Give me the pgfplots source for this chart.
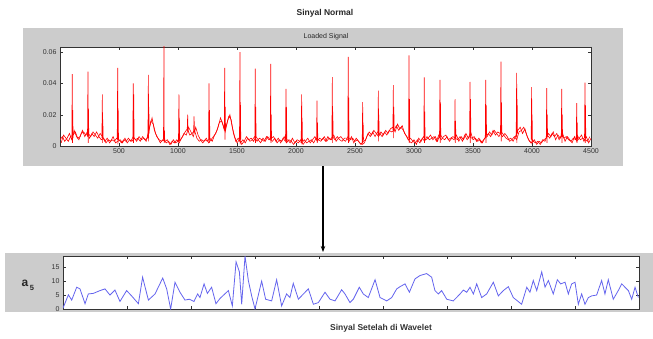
\documentclass[border=0pt]{standalone}
\usepackage{pgfplots}
\pgfplotsset{compat=1.18}
\usepackage{pgfplotstable}
\usetikzlibrary{arrows.meta}
\usepackage{fontspec}
\setmainfont{Liberation Sans}
\definecolor{panelgray}{RGB}{204,204,204}
\definecolor{sigblue}{RGB}{100,100,238}

\pgfplotstableread{
x y
0 0.004
20 0.006
40 0.003
60 0.005
80 0.008
100 0.004
120 0.010
140 0.006
160 0.004
180 0.008
200 0.009
220 0.007
240 0.008
260 0.006
280 0.009
300 0.007
320 0.005
340 0.008
360 0.006
380 0.003
400 0.005
420 0.002
440 0.004
460 0.003
480 0.005
500 0.004
520 0.002
540 0.004
560 0.003
580 0.005
600 0.003
620 0.006
640 0.004
660 0.005
680 0.003
700 0.006
720 0.004
740 0.005
760 0.012
780 0.018
800 0.010
820 0.006
840 0.004
860 0.003
880 0.004
900 0.002
920 0.003
940 0.001
960 0.004
980 0.002
1000 0.003
1020 0.004
1040 0.006
1060 0.009
1080 0.011
1100 0.007
1120 0.008
1140 0.010
1160 0.005
1180 0.003
1200 0.004
1220 0.003
1240 0.005
1260 0.002
1280 0.004
1300 0.006
1320 0.008
1340 0.012
1360 0.018
1380 0.014
1400 0.009
1420 0.016
1440 0.020
1460 0.012
1480 0.006
1500 0.002
1520 0.004
1540 0.001
1560 0.003
1580 0.006
1600 0.004
1620 0.005
1640 0.003
1660 0.006
1680 0.004
1700 0.002
1720 0.005
1740 0.003
1760 0.006
1780 0.004
1800 0.003
1820 0.005
1840 0.002
1860 0.004
1880 0.003
1900 0.006
1920 0.002
1940 0.004
1960 0.003
1980 0.001
2000 0.003
2020 0.002
2040 0.004
2060 0.001
2080 0.003
2100 0.005
2120 0.002
2140 0.004
2160 0.006
2180 0.003
2200 0.005
2220 0.004
2240 0.006
2260 0.003
2280 0.005
2300 0.004
2320 0.007
2340 0.003
2360 0.005
2380 0.006
2400 0.004
2420 0.003
2440 0.006
2460 0.004
2480 0.005
2500 0.003
2520 0.004
2540 0.002
2560 0.001
2580 0.002
2600 0.006
2620 0.009
2640 0.007
2660 0.010
2680 0.008
2700 0.006
2720 0.009
2740 0.007
2760 0.010
2780 0.008
2800 0.011
2820 0.012
2840 0.009
2860 0.014
2880 0.011
2900 0.013
2920 0.008
2940 0.006
2960 0.003
2980 0.002
3000 0.004
3020 0.001
3040 0.005
3060 0.003
3080 0.006
3100 0.004
3120 0.005
3140 0.007
3160 0.004
3180 0.006
3200 0.003
3220 0.008
3240 0.005
3260 0.004
3280 0.006
3300 0.003
3320 0.005
3340 0.004
3360 0.007
3380 0.003
3400 0.006
3420 0.004
3440 0.008
3460 0.005
3480 0.009
3500 0.004
3520 0.005
3540 0.003
3560 0.004
3580 0.002
3600 0.005
3620 0.006
3640 0.009
3660 0.007
3680 0.010
3700 0.008
3720 0.006
3740 0.009
3760 0.007
3780 0.005
3800 0.004
3820 0.005
3840 0.003
3860 0.006
3880 0.010
3900 0.012
3920 0.008
3940 0.011
3960 0.006
3980 0.003
4000 0.002
4020 0.004
4040 0.001
4060 0.003
4080 0.002
4100 0.004
4120 0.005
4140 0.008
4160 0.006
4180 0.009
4200 0.004
4220 0.007
4240 0.005
4260 0.008
4280 0.003
4300 0.006
4320 0.004
4340 0.002
4360 0.006
4380 0.003
4400 0.005
4420 0.007
4440 0.003
4460 0.006
4480 0.002
4500 0.005
}\baseline

\pgfplotstableread{
x y
10 0.002
30 0.007
50 0.005
70 0.003
90 0.006
110 0.007
130 0.009
150 0.005
170 0.006
190 0.010
210 0.006
230 0.009
250 0.005
270 0.008
290 0.006
310 0.009
330 0.006
350 0.004
370 0.005
390 0.002
410 0.004
430 0.003
450 0.006
470 0.002
490 0.003
510 0.004
530 0.002
550 0.005
570 0.002
590 0.004
610 0.003
630 0.005
650 0.003
670 0.006
690 0.004
710 0.005
730 0.003
750 0.009
770 0.016
790 0.014
810 0.008
830 0.005
850 0.002
870 0.004
890 0.003
910 0.004
930 0.001
950 0.003
970 0.002
990 0.004
1010 0.002
1030 0.005
1050 0.008
1070 0.007
1090 0.012
1110 0.009
1130 0.006
1150 0.012
1170 0.007
1190 0.004
1210 0.002
1230 0.004
1250 0.003
1270 0.005
1290 0.003
1310 0.007
1330 0.010
1350 0.015
1370 0.016
1390 0.011
1410 0.013
1430 0.019
1450 0.017
1470 0.008
1490 0.003
1510 0.005
1530 0.002
1550 0.004
1570 0.002
1590 0.005
1610 0.003
1630 0.004
1650 0.006
1670 0.003
1690 0.005
1710 0.004
1730 0.003
1750 0.006
1770 0.004
1790 0.005
1810 0.006
1830 0.003
1850 0.005
1870 0.002
1890 0.005
1910 0.003
1930 0.004
1950 0.002
1970 0.005
1990 0.002
2010 0.004
2030 0.003
2050 0.002
2070 0.004
2090 0.002
2110 0.003
2130 0.004
2150 0.002
2170 0.005
2190 0.004
2210 0.003
2230 0.005
2250 0.003
2270 0.006
2290 0.004
2310 0.006
2330 0.004
2350 0.006
2370 0.004
2390 0.003
2410 0.005
2430 0.005
2450 0.003
2470 0.006
2490 0.002
2510 0.005
2530 0.003
2550 0.001
2570 0.003
2590 0.004
2610 0.008
2630 0.006
2650 0.009
2670 0.006
2690 0.009
2710 0.008
2730 0.006
2750 0.009
2770 0.007
2790 0.010
2810 0.009
2830 0.010
2850 0.013
2870 0.010
2890 0.012
2910 0.010
2930 0.007
2950 0.004
2970 0.005
2990 0.003
3010 0.002
3030 0.004
3050 0.002
3070 0.005
3090 0.003
3110 0.006
3130 0.004
3150 0.005
3170 0.006
3190 0.003
3210 0.007
3230 0.004
3250 0.006
3270 0.007
3290 0.004
3310 0.005
3330 0.006
3350 0.005
3370 0.004
3390 0.006
3410 0.003
3430 0.007
3450 0.004
3470 0.006
3490 0.005
3510 0.006
3530 0.003
3550 0.005
3570 0.002
3590 0.004
3610 0.006
3630 0.008
3650 0.006
3670 0.010
3690 0.007
3710 0.009
3730 0.008
3750 0.006
3770 0.008
3790 0.006
3810 0.003
3830 0.004
3850 0.006
3870 0.004
3890 0.009
3910 0.010
3930 0.012
3950 0.008
3970 0.004
3990 0.002
4010 0.003
4030 0.002
4050 0.003
4070 0.001
4090 0.004
4110 0.003
4130 0.007
4150 0.005
4170 0.008
4190 0.006
4210 0.008
4230 0.004
4250 0.007
4270 0.005
4290 0.006
4310 0.004
4330 0.003
4350 0.005
4370 0.004
4390 0.006
4410 0.004
4430 0.005
4450 0.004
4470 0.003
4490 0.006
}\noisetwo

\pgfplotstableread{
x y
100 0.004
104 0.046
106 0.002
108 0.023
111 0.005
nan nan
233 0.006
237 0.0475
239 0.002
241 0.024
244 0.007
nan nan
355 0.005
359 0.033
361 0.002
363 0.017
366 0.004
nan nan
485 0.004
489 0.050
491 0.001
493 0.024
496 0.004
nan nan
617 0.004
621 0.040
623 0.002
625 0.033
628 0.005
nan nan
745 0.005
749 0.0455
751 0.003
753 0.025
756 0.008
nan nan
877 0.004
881 0.064
883 0.002
885 0.010
888 0.003
nan nan
1004 0.003
1008 0.033
1010 0.002
1012 0.018
1015 0.004
nan nan
1078 0.010
1082 0.020
1086 0.008
nan nan
1132 0.008
1136 0.019
1140 0.009
nan nan
1259 0.004
1263 0.040
1265 0.002
1267 0.023
1270 0.004
nan nan
1392 0.010
1396 0.050
1398 0.004
1400 0.025
1403 0.010
nan nan
1521 0.004
1525 0.060
1527 0.001
1529 0.028
1532 0.004
nan nan
1651 0.005
1655 0.0495
1657 0.002
1659 0.025
1662 0.005
nan nan
1782 0.004
1786 0.0525
1788 0.002
1790 0.020
1793 0.004
nan nan
1911 0.004
1915 0.0365
1917 0.002
1919 0.025
1922 0.004
nan nan
2044 0.003
2048 0.033
2050 0.001
2052 0.018
2055 0.003
nan nan
2174 0.004
2178 0.029
2180 0.002
2182 0.015
2185 0.004
nan nan
2304 0.005
2308 0.044
2310 0.002
2312 0.022
2315 0.006
nan nan
2439 0.005
2443 0.057
2445 0.002
2447 0.031
2450 0.005
nan nan
2561 0.002
2565 0.028
2567 0.001
2569 0.015
2572 0.004
nan nan
2694 0.007
2698 0.0354
2700 0.003
2702 0.020
2705 0.007
nan nan
2821 0.010
2825 0.039
2827 0.005
2829 0.025
2832 0.011
nan nan
2954 0.005
2958 0.058
2960 0.002
2962 0.030
2965 0.004
nan nan
3083 0.005
3087 0.0438
3089 0.002
3091 0.022
3094 0.005
nan nan
3216 0.005
3220 0.0423
3222 0.002
3224 0.028
3227 0.006
nan nan
3344 0.005
3348 0.030
3350 0.002
3352 0.016
3355 0.005
nan nan
3471 0.006
3475 0.041
3477 0.002
3479 0.030
3482 0.006
nan nan
3604 0.005
3608 0.0423
3610 0.002
3612 0.026
3615 0.007
nan nan
3733 0.008
3737 0.054
3739 0.003
3741 0.028
3744 0.008
nan nan
3866 0.006
3870 0.0467
3872 0.002
3874 0.030
3877 0.008
nan nan
3993 0.004
3997 0.0376
3999 0.001
4001 0.020
4004 0.003
nan nan
4121 0.005
4125 0.037
4127 0.002
4129 0.020
4132 0.006
nan nan
4248 0.006
4252 0.0365
4254 0.002
4256 0.020
4259 0.006
nan nan
4375 0.004
4379 0.0274
4381 0.002
4383 0.015
4386 0.004
nan nan
4445 0.005
4449 0.0405
4451 0.002
4453 0.026
4456 0.005
}\spikes

\pgfplotstableread{
x y
0 0.3
42 5.1
68 3.2
107 7.8
133 7.2
172 1.9
198 5.4
237 5.6
289 6.6
328 7.2
367 5.0
406 6.8
445 2.7
497 6.6
536 4.7
589 1.9
622 11.4
667 3.2
719 5.4
779 11.1
810 7.2
841 0.0
875 9.6
914 6.0
953 3.2
987 3.5
1023 2.7
1052 5.4
1070 4.1
1102 9.0
1128 5.6
1161 7.8
1195 1.9
1227 3.8
1292 6.6
1323 1.1
1352 16.9
1378 13.3
1396 1.7
1422 19.0
1448 10.2
1474 4.7
1500 0.0
1552 10.0
1583 3.5
1630 2.9
1669 10.5
1708 1.1
1747 5.4
1773 4.1
1799 9.2
1839 3.5
1878 5.4
1917 7.2
1956 1.7
1995 2.3
2047 6.0
2086 3.5
2125 2.9
2177 6.9
2203 5.4
2242 2.3
2268 3.5
2315 7.8
2346 5.4
2385 4.1
2438 10.5
2477 4.1
2529 2.9
2568 4.1
2607 7.2
2633 8.0
2672 9.0
2706 6.0
2750 10.8
2789 12.0
2841 12.7
2880 11.4
2906 6.6
2932 5.4
2958 6.6
2998 3.5
3049 2.9
3102 5.4
3128 6.8
3154 6.0
3180 7.8
3206 5.4
3232 9.0
3271 4.1
3310 5.4
3362 9.6
3401 4.7
3440 6.6
3479 8.0
3518 4.1
3583 1.7
3623 7.8
3648 6.0
3674 10.2
3701 6.6
3740 13.3
3766 7.8
3792 10.2
3830 5.4
3862 10.5
3888 9.0
3922 9.6
3948 5.4
3974 9.0
4000 9.6
4026 1.7
4052 5.4
4078 1.7
4104 4.1
4130 4.7
4169 5.0
4208 10.2
4234 5.4
4260 10.5
4299 3.5
4338 6.6
4365 9.0
4417 6.6
4443 3.5
4469 7.8
4495 4.1
}\afive

\begin{document}
\begin{tikzpicture}[x=1pt,y=1pt]
\fill[panelgray] (23,172) rectangle (623,310);
\fill[panelgray] (5,26) rectangle (653,85);
\node[font=\bfseries\fontsize{8.5}{9}\selectfont, text=black!85] at (325,325) {Sinyal Normal};
\node[font=\fontsize{7}{8}\selectfont, text=black!85] at (326,301) {Loaded Signal};
\begin{axis}[at={(60pt,192pt)}, anchor=south west, scale only axis,
  width=531pt, height=99pt,
  xmin=0, xmax=4500, ymin=0, ymax=0.0633,
  xtick={500,1000,1500,2000,2500,3000,3500,4000,4500},
  xticklabels={500,1000,1500,2000,2500,3000,3500,4000,4500},
  ytick={0,0.02,0.04,0.06}, yticklabels={0,0.02,0.04,0.06},
  scaled y ticks=false, scaled x ticks=false,
  tick align=inside, tick pos=both, major tick length=3pt,
  tick style={black!80, line width=0.4pt},
  ticklabel style={font=\fontsize{7}{8}\selectfont, text=black!80},
  xticklabel style={yshift=1pt},
  /pgf/number format/assume math mode=true,
  axis background/.style={fill=white},
  axis line style={black!80, line width=0.5pt},
  unbounded coords=jump]
\addplot[red, line width=0.6pt] table[x=x,y=y] {\baseline};
\addplot[red, line width=0.6pt] table[x=x,y=y] {\noisetwo};
\addplot[red, line width=0.6pt] table[x=x,y=y] {\spikes};
\end{axis}
\draw[line width=1.1pt, -{Stealth[length=6pt,width=4.5pt]}] (323,172) -- (323,86);
\begin{axis}[at={(63pt,29pt)}, anchor=south west, scale only axis,
  width=576pt, height=53pt,
  xmin=0, xmax=4500, ymin=0, ymax=19,
  xtick={500,1000,1500,2000,2500,3000,3500,4000}, xticklabels={},
  ytick={0,5,10,15}, yticklabels={0,5,10,15},
  tick align=inside, tick pos=both, major tick length=3pt,
  tick style={black!80, line width=0.4pt},
  ticklabel style={font=\fontsize{7}{8}\selectfont, text=black!80},
  /pgf/number format/assume math mode=true,
  axis background/.style={fill=white},
  axis line style={black!80, line width=0.5pt}]
\addplot[sigblue, line width=0.8pt] table[x=x,y=y] {\afive};
\end{axis}
\node[font=\bfseries\fontsize{12}{12}\selectfont, text=black!85, inner sep=0pt] at (25,55) {a};
\node[font=\bfseries\fontsize{7.5}{8}\selectfont, text=black!85, inner sep=0pt] at (32,50) {5};
\node[font=\bfseries\fontsize{8.5}{9}\selectfont, text=black!80] at (381,10) {Sinyal Setelah di Wavelet};
\pgfresetboundingbox
\useasboundingbox (0,0) rectangle (653,338);
\end{tikzpicture}
\end{document}
